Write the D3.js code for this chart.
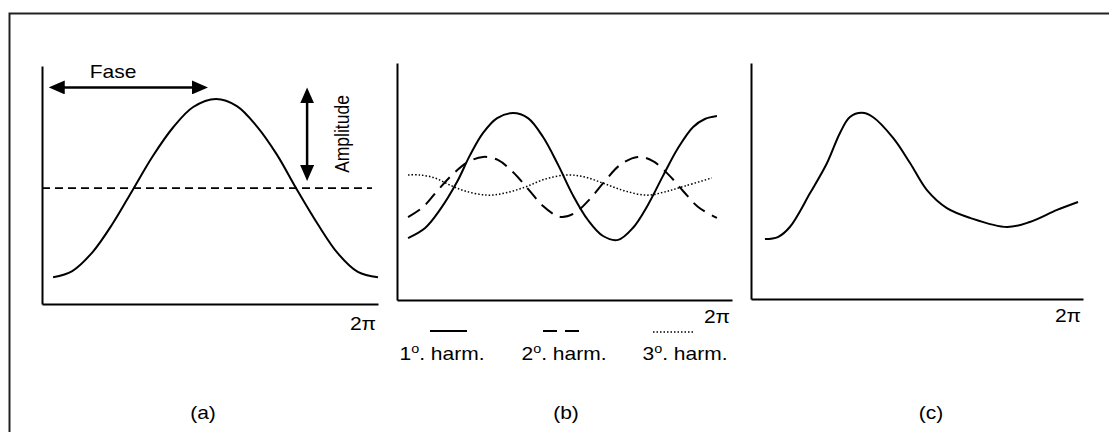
<!DOCTYPE html>
<html>
<head>
<meta charset="utf-8">
<script src="https://cdn.jsdelivr.net/npm/d3@7"></script>
<style>
  body { margin: 0; background: #fff; }
  svg { display: block; }
  text { font-family: "Liberation Sans", Arial, sans-serif; font-size: 17.5px; fill: #000; }
</style>
</head>
<body>
<svg id="chart" width="1109" height="432"></svg>
<script>
// ---- data ------------------------------------------------------------
// phase is a fraction of one period (1 = 2π); values are in arbitrary units

// (a) a single wave and its mean level
const aPhase = [0.033, 0.09, 0.15, 0.21, 0.27, 0.33, 0.39, 0.45, 0.518, 0.58, 0.64, 0.70, 0.756, 0.82, 0.88, 0.94, 1.0];
const aValue = [-1.0, -0.93, -0.72, -0.40, -0.02, 0.36, 0.68, 0.91, 1.0, 0.92, 0.69, 0.37, 0.0, -0.40, -0.73, -0.94, -1.0];
const aMean = 0;
// phase arrow: from the origin to the crest; amplitude arrow: crest level down to the mean
const phaseArrow = [0.02, 0.494];
const phaseArrowLevel = 1.13;
const ampArrowPhase = 0.789;
const ampArrow = [1.13, 0.08];

// (b) the three harmonics
const h1Phase = [0.033, 0.084, 0.128, 0.179, 0.218, 0.257, 0.299, 0.346, 0.391, 0.436, 0.481, 0.525, 0.570, 0.615, 0.660, 0.704, 0.749, 0.794, 0.839, 0.884, 0.919, 0.955];
const h1Value = [-1.91, -1.57, -0.96, -0.02, 0.89, 1.64, 2.14, 2.31, 2.14, 1.50, 0.56, -0.46, -1.30, -1.84, -1.97, -1.57, -0.79, 0.19, 1.13, 1.84, 2.11, 2.21];

const h2Phase = [0.033, 0.078, 0.122, 0.167, 0.212, 0.257, 0.301, 0.346, 0.391, 0.436, 0.472, 0.493, 0.531, 0.576, 0.621, 0.666, 0.719, 0.764, 0.809, 0.854, 0.899, 0.955];
const h2Value = [-1.20, -0.86, -0.29, 0.25, 0.66, 0.83, 0.73, 0.32, -0.25, -0.83, -1.13, -1.20, -1.06, -0.59, 0.02, 0.56, 0.83, 0.69, 0.25, -0.32, -0.86, -1.23];

const h3Phase = [0.033, 0.069, 0.113, 0.158, 0.203, 0.269, 0.322, 0.382, 0.442, 0.507, 0.561, 0.621, 0.681, 0.746, 0.800, 0.860, 0.940];
const h3Value = [0.22, 0.22, 0.12, -0.12, -0.32, -0.46, -0.39, -0.19, 0.08, 0.22, 0.15, -0.08, -0.32, -0.46, -0.35, -0.15, 0.12];

const harmonicOrders = ["1", "2", "3"];

// (c) the resulting composite wave
const cPhase = [0.042, 0.081, 0.117, 0.178, 0.229, 0.268, 0.298, 0.334, 0.367, 0.428, 0.479, 0.530, 0.590, 0.660, 0.771, 0.840, 0.922, 0.985];
const cValue = [-1.97, -1.90, -1.56, -0.41, 0.61, 1.63, 2.17, 2.31, 2.17, 1.46, 0.61, -0.31, -0.92, -1.25, -1.56, -1.39, -0.98, -0.71];

const periodLabel = "2π";
const panelLabels = ["(a)", "(b)", "(c)"];

// ---- drawing -----------------------------------------------------------
const svg = d3.select("#chart");
const STRETCH = "scale(1.2,1)";

// frame
svg.append("rect")
  .attr("x", 9.5).attr("y", 13.5)
  .attr("width", 1120).attr("height", 440)
  .attr("fill", "none").attr("stroke", "#222").attr("stroke-width", 2);

// arrowhead marker
svg.append("defs").append("marker")
  .attr("id", "head")
  .attr("viewBox", "0 0 16 14")
  .attr("refX", 12).attr("refY", 7)
  .attr("markerWidth", 16).attr("markerHeight", 14)
  .attr("markerUnits", "userSpaceOnUse")
  .attr("orient", "auto-start-reverse")
  .append("path").attr("d", "M0,0L16,7L0,14Z").attr("fill", "#000");

const zip = (ts, vs) => ts.map((t, i) => ({ t, v: vs[i] }));

function panel(xRange, yRange, yDomain, tickPad) {
  const x = d3.scaleLinear([0, 1], xRange);
  const y = d3.scaleLinear(yDomain, yRange);
  const g = svg.append("g");
  const xAxis = g.append("g")
    .attr("transform", `translate(0,${yRange[0]})`)
    .call(d3.axisBottom(x).tickValues([1]).tickFormat(() => periodLabel)
      .tickSize(0).tickSizeOuter(0).tickPadding(tickPad));
  const yAxis = g.append("g")
    .attr("transform", `translate(${xRange[0]},0)`)
    .call(d3.axisLeft(y).tickValues([]).tickSizeOuter(0));
  [xAxis, yAxis].forEach(a => {
    a.select(".domain").attr("stroke", "#000").attr("stroke-width", 2);
  });
  xAxis.selectAll(".tick text")
    .attr("text-anchor", "end").attr("x", -2)
    .attr("transform", STRETCH);
  xAxis.attr("font-size", null).attr("font-family", null);
  const line = d3.line().x(d => x(d.t)).y(d => y(d.v)).curve(d3.curveCatmullRom.alpha(0.5));
  return { x, y, g, line };
}

// (a)
const pA = panel([42, 378], [304, 66], [-1.3, 1.37], 14);
pA.g.append("line")
  .attr("x1", pA.x(0)).attr("x2", pA.x(0.982))
  .attr("y1", pA.y(aMean)).attr("y2", pA.y(aMean))
  .attr("stroke", "#000").attr("stroke-width", 1.6).attr("stroke-dasharray", "8,5");
pA.g.append("path").datum(zip(aPhase, aValue))
  .attr("d", pA.line).attr("fill", "none").attr("stroke", "#000").attr("stroke-width", 2);

function arrow(x1, y1, x2, y2) {
  const len = Math.hypot(x2 - x1, y2 - y1), ux = (x2 - x1) / len, uy = (y2 - y1) / len;
  svg.append("line")
    .attr("x1", x1 + ux * 4).attr("y1", y1 + uy * 4)
    .attr("x2", x2 - ux * 4).attr("y2", y2 - uy * 4)
    .attr("stroke", "#000").attr("stroke-width", 2.5)
    .attr("marker-start", "url(#head)").attr("marker-end", "url(#head)");
}
arrow(pA.x(phaseArrow[0]), pA.y(phaseArrowLevel), pA.x(phaseArrow[1]), pA.y(phaseArrowLevel));
arrow(pA.x(ampArrowPhase), pA.y(ampArrow[0]), pA.x(ampArrowPhase), pA.y(ampArrow[1]));

svg.append("text").attr("transform", `translate(113,78) ${STRETCH}`)
  .attr("text-anchor", "middle").text("Fase");
svg.append("text").attr("transform", `translate(349,134) ${STRETCH} rotate(-90)`)
  .attr("text-anchor", "middle").text("Amplitude");

// (b)
const pB = panel([397, 732], [300, 63], [-4, 4], 11);
const harmonicStyles = [
  { width: 2, dash: null },
  { width: 2, dash: "14,8" },
  { width: 1.5, dash: "1.5,2" }
];
[zip(h1Phase, h1Value), zip(h2Phase, h2Value), zip(h3Phase, h3Value)].forEach((s, i) => {
  pB.g.append("path").datum(s)
    .attr("d", pB.line).attr("fill", "none").attr("stroke", "#000")
    .attr("stroke-width", harmonicStyles[i].width)
    .attr("stroke-dasharray", harmonicStyles[i].dash);
});

// legend under (b)
const legendItems = [
  { x1: 430, x2: 467, y: 331, cx: 442 },
  { x1: 543, x2: 579, y: 331, cx: 564 },
  { x1: 653, x2: 693, y: 332, cx: 685 }
];
harmonicOrders.forEach((ord, i) => {
  const it = legendItems[i];
  svg.append("line")
    .attr("x1", it.x1).attr("x2", it.x2).attr("y1", it.y).attr("y2", it.y)
    .attr("stroke", "#000").attr("stroke-width", harmonicStyles[i].width)
    .attr("stroke-dasharray", harmonicStyles[i].dash);
  const t = svg.append("text").attr("transform", `translate(${it.cx},360) ${STRETCH}`)
    .attr("text-anchor", "middle");
  t.append("tspan").text(ord);
  t.append("tspan").attr("font-size", "12px").attr("dy", -7).text("o");
  t.append("tspan").attr("dy", 7).text(". harm.");
});

// (c)
const pC = panel([751, 1083], [299, 63], [-4, 4], 11);
pC.g.append("path").datum(zip(cPhase, cValue))
  .attr("d", pC.line).attr("fill", "none").attr("stroke", "#000").attr("stroke-width", 2);

// panel captions
const captionX = [203, 566, 931];
panelLabels.forEach((l, i) => {
  svg.append("text").attr("transform", `translate(${captionX[i]},419) ${STRETCH}`)
    .attr("text-anchor", "middle").text(l);
});
</script>
</body>
</html>
